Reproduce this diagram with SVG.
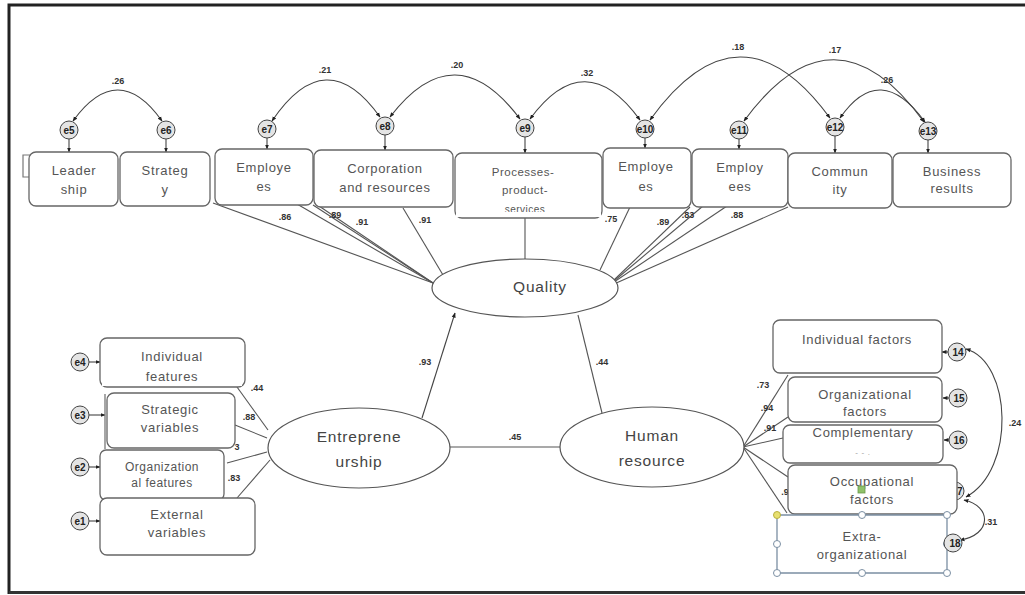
<svg xmlns="http://www.w3.org/2000/svg" width="1025" height="595" viewBox="0 0 1025 595">
<defs>
<marker id="ah" viewBox="0 0 10 10" refX="9" refY="5" markerWidth="5" markerHeight="5" markerUnits="userSpaceOnUse" orient="auto-start-reverse"><path d="M0,1 L10,5 L0,9 z" fill="#222"/></marker>
<style>
.bx{fill:#fff;stroke:#666;stroke-width:1.3}
.el{fill:#fff;stroke:#555;stroke-width:1.2}
.t{font-family:"Liberation Sans",Arial,sans-serif;font-size:13px;letter-spacing:0.7px;fill:#555;text-anchor:middle}
.ts{font-family:"Liberation Sans",Arial,sans-serif;font-size:11.5px;letter-spacing:0.5px;fill:#555;text-anchor:middle}
.tl{font-family:"Liberation Sans",Arial,sans-serif;font-size:15.5px;letter-spacing:0.8px;fill:#444;text-anchor:middle}
.c{font-family:"Liberation Sans",Arial,sans-serif;font-size:9px;font-weight:bold;fill:#333;text-anchor:middle}
.ec{fill:#e4e4e4;stroke:#444;stroke-width:1}
.et{font-family:"Liberation Sans",Arial,sans-serif;font-size:10px;font-weight:bold;fill:#222;text-anchor:middle}
.ln{fill:none;stroke:#555;stroke-width:1.1}
.ar{fill:none;stroke:#444;stroke-width:1.1;marker-end:url(#ah)}
.cv{fill:none;stroke:#444;stroke-width:1.1;marker-start:url(#ah);marker-end:url(#ah)}
.hd{fill:#fff;stroke:#7b8fa3;stroke-width:1}
</style>
</defs>
<rect width="1025" height="595" fill="#fff"/>
<path d="M9,594 V5 H1025" fill="none" stroke="#222" stroke-width="3"/>
<path d="M9,592.5 H1025" fill="none" stroke="#333" stroke-width="3"/>

<g id="connectors">
<path class="cv" d="M73,121 Q118,59 162,121"/>
<path class="cv" d="M272,121 Q326,41 380,117"/>
<path class="cv" d="M390,117 Q455,32 520,119"/>
<path class="cv" d="M530,119 Q585,44 640,120"/>
<path class="cv" d="M650,120 Q740,-5 830,118"/>
<path class="cv" d="M744,121 Q834,-2 924,122"/>
<path class="cv" d="M840,118 Q880,60 925,122"/>
<path class="ar" d="M69,139 V152"/>
<path class="ar" d="M166,139 V152"/>
<path class="ar" d="M267,138 V149"/>
<path class="ar" d="M385,135 V150"/>
<path class="ar" d="M525,137 V153"/>
<path class="ar" d="M645,138 V148"/>
<path class="ar" d="M739,139 V149"/>
<path class="ar" d="M835,136 V153"/>
<path class="ar" d="M928,140 V153"/>
<path class="ln" d="M213,203 L433,283"/>
<path class="ln" d="M297,204 L433,283"/>
<path class="ln" d="M313,205 L433,283"/>
<path class="ln" d="M319,206 L433,283"/>
<path class="ln" d="M403,208 L443,275"/>
<path class="ln" d="M525,217 V260"/>
<path class="ln" d="M630,207 L600,270"/>
<path class="ln" d="M690,207 L614,280"/>
<path class="ln" d="M703,206 L614,281"/>
<path class="ln" d="M727,206 L614,282"/>
<path class="ln" d="M788,207 L614,284"/>
<path class="ar" d="M422,418 L455,313"/>
<path class="ln" d="M578,315 L602,413"/>
<path class="ln" d="M450,447 L560,447"/>
<path class="ln" d="M237,387 L268,430"/>
<path class="ln" d="M235,425 L267,438"/>
<path class="ln" d="M227,463 L267,452"/>
<path class="ln" d="M237,498 L270,460"/>
<path class="ln" d="M743,447 L788,375"/>
<path class="ln" d="M743,447 L788,417"/>
<path class="ln" d="M743,447 L783,438"/>
<path class="ln" d="M743,447 L788,477"/>
<path class="ln" d="M743,447 L787,513"/>
<path class="ar" d="M89,362 H100"/>
<path class="ar" d="M89,415 H105"/>
<path class="ar" d="M89,467 H100"/>
<path class="ar" d="M89,521 H100"/>
<path class="ar" d="M948,352 H942"/>
<path class="ar" d="M949,398 H943"/>
<path class="ar" d="M949,440 H944"/>
<path class="cv" d="M966,349 C1012,362 1016,470 966,497"/>
<path class="cv" d="M964,500 C992,506 992,535 960,540"/>
</g>

<g id="coefs">
<text class="c" x="118" y="84">.26</text>
<text class="c" x="325" y="73">.21</text>
<text class="c" x="457" y="68">.20</text>
<text class="c" x="587" y="76">.32</text>
<text class="c" x="738" y="50">.18</text>
<text class="c" x="835" y="53">.17</text>
<text class="c" x="887" y="83">.26</text>
<text class="c" x="285" y="220">.86</text>
<text class="c" x="335" y="218">.89</text>
<text class="c" x="362" y="225">.91</text>
<text class="c" x="425" y="223">.91</text>
<text class="c" x="611" y="222">.75</text>
<text class="c" x="663" y="225">.89</text>
<text class="c" x="688" y="218">.83</text>
<text class="c" x="737" y="218">.88</text>
<text class="c" x="425" y="365">.93</text>
<text class="c" x="602" y="365">.44</text>
<text class="c" x="515" y="440">.45</text>
<text class="c" x="257" y="391">.44</text>
<text class="c" x="249" y="420">.88</text>
<text class="c" x="237" y="450">3</text>
<text class="c" x="234" y="481">.83</text>
<text class="c" x="763" y="388">.73</text>
<text class="c" x="767" y="411">.94</text>
<text class="c" x="770" y="431">.91</text>
<text class="c" x="785" y="495">.9</text>
<text class="c" x="1015" y="426">.24</text>
<text class="c" x="991" y="525">.31</text>
</g>

<g id="e5"><circle class="ec" cx="69" cy="130" r="9"/><text class="et" x="69" y="134">e5</text></g>
<g id="e6"><circle class="ec" cx="166" cy="130" r="9"/><text class="et" x="166" y="134">e6</text></g>
<g id="e7"><circle class="ec" cx="267" cy="129" r="9"/><text class="et" x="267" y="133">e7</text></g>
<g id="e8"><circle class="ec" cx="385" cy="126" r="9"/><text class="et" x="385" y="130">e8</text></g>
<g id="e9"><circle class="ec" cx="525" cy="128" r="9"/><text class="et" x="525" y="132">e9</text></g>
<g id="e10"><circle class="ec" cx="645" cy="129" r="9"/><text class="et" x="645" y="133">e10</text></g>
<g id="e11"><circle class="ec" cx="739" cy="130" r="9"/><text class="et" x="739" y="134">e11</text></g>
<g id="e12"><circle class="ec" cx="835" cy="127" r="9"/><text class="et" x="835" y="131">e12</text></g>
<g id="e13"><circle class="ec" cx="928" cy="131" r="9"/><text class="et" x="928" y="135">e13</text></g>

<path d="M30,155 H23 V177 H30" fill="none" stroke="#777" stroke-width="1.2"/>
<g id="leadership"><rect class="bx" x="29" y="152" width="89" height="54" rx="7"/><text class="t" x="74" y="175">Leader</text><text class="t" x="74" y="194">ship</text></g>
<g id="strategy"><rect class="bx" x="120" y="152" width="90" height="54" rx="7"/><text class="t" x="165" y="175">Strateg</text><text class="t" x="165" y="194">y</text></g>
<g id="employees1"><rect class="bx" x="215" y="149" width="98" height="56" rx="7"/><text class="t" x="264" y="172">Employe</text><text class="t" x="264" y="191">es</text></g>
<g id="corporation"><rect class="bx" x="314" y="150" width="139" height="57" rx="7"/><text class="t" x="385" y="173">Corporation</text><text class="t" x="385" y="192">and resources</text></g>
<g id="processes"><rect class="bx" x="455" y="153" width="147" height="65" rx="7"/><text class="ts" x="523" y="176">Processes-</text><text class="ts" x="525" y="194">product-</text><text class="ts" x="525" y="213" style="font-size:10px">services</text><rect x="456" y="212" width="145" height="5" fill="#fff"/></g>
<g id="employees2"><rect class="bx" x="603" y="148" width="88" height="60" rx="7"/><text class="t" x="646" y="171">Employe</text><text class="t" x="646" y="191">es</text></g>
<g id="employees3"><rect class="bx" x="692" y="149" width="96" height="58" rx="7"/><text class="t" x="740" y="172">Employ</text><text class="t" x="740" y="191">ees</text></g>
<g id="community"><rect class="bx" x="788" y="153" width="104" height="55" rx="7"/><text class="t" x="840" y="176">Commun</text><text class="t" x="840" y="194">ity</text></g>
<g id="business"><rect class="bx" x="893" y="153" width="118" height="54" rx="7"/><text class="t" x="952" y="176">Business</text><text class="t" x="952" y="193">results</text></g>

<g id="quality"><ellipse class="el" cx="525" cy="288" rx="93" ry="29"/><text class="tl" x="540" y="292">Quality</text></g>
<g id="entrepreneurship"><ellipse class="el" cx="359" cy="448" rx="91" ry="40"/><text class="tl" x="359" y="442">Entreprene</text><text class="tl" x="359" y="467">urship</text></g>
<g id="human"><ellipse class="el" cx="652" cy="447" rx="92" ry="40"/><text class="tl" x="652" y="441">Human</text><text class="tl" x="652" y="466">resource</text></g>

<g id="e4"><circle class="ec" cx="80" cy="362" r="9"/><text class="et" x="80" y="366">e4</text></g>
<g id="e3"><circle class="ec" cx="80" cy="415" r="9"/><text class="et" x="80" y="419">e3</text></g>
<g id="e2"><circle class="ec" cx="80" cy="467" r="9"/><text class="et" x="80" y="471">e2</text></g>
<g id="e1"><circle class="ec" cx="80" cy="521" r="9"/><text class="et" x="80" y="525">e1</text></g>

<g id="individual-features"><rect class="bx" x="100" y="338" width="145" height="49" rx="7"/><text class="t" x="172" y="361">Individual</text><text class="t" x="172" y="381">features</text><rect x="102" y="382" width="140" height="4" fill="#fff"/></g>
<g id="strategic-variables"><path d="M105,394 V449" stroke="#777" stroke-width="1.3"/><rect class="bx" x="107" y="393" width="128" height="55" rx="7"/><text class="t" x="170" y="414">Strategic</text><text class="t" x="170" y="432">variables</text></g>
<g id="organizational-features"><rect class="bx" x="100" y="450" width="124" height="50" rx="6"/><text class="ts" x="162" y="471" style="font-size:12px">Organization</text><text class="ts" x="162" y="487" style="font-size:12px">al features</text></g>
<g id="external-variables"><rect class="bx" x="100" y="498" width="155" height="57" rx="7"/><text class="t" x="177" y="519">External</text><text class="t" x="177" y="537">variables</text></g>

<g id="e17"><circle class="ec" cx="955" cy="491" r="9"/><text class="et" x="957" y="495">17</text></g>

<g id="individual-factors"><rect class="bx" x="773" y="320" width="169" height="53" rx="7"/><text class="t" x="857" y="344">Individual factors</text></g>
<g id="organizational-factors"><rect class="bx" x="788" y="377" width="154" height="45" rx="7"/><text class="t" x="865" y="399">Organizational</text><text class="t" x="865" y="416">factors</text></g>
<g id="complementary"><rect class="bx" x="783" y="425" width="160" height="38" rx="7"/><text class="t" x="863" y="437">Complementary</text><text class="t" x="863" y="455" style="font-size:8px;fill:#999">-      -      .</text></g>
<g id="occupational"><rect class="bx" x="788" y="465" width="169" height="49" rx="7"/><text class="t" x="872" y="486">Occupational</text><text class="t" x="872" y="504">factors</text></g>
<g id="extra-organizational"><rect class="bx" x="777" y="515" width="170" height="58" rx="4" style="stroke:#7b8fa3"/><text class="t" x="862" y="541">Extra-</text><text class="t" x="862" y="559">organizational</text>
<circle class="hd" cx="777" cy="515" r="3.5" style="fill:#e8e070;stroke:#b8b040"/><circle class="hd" cx="862" cy="515" r="3.5"/><circle class="hd" cx="947" cy="515" r="3.5"/><circle class="hd" cx="777" cy="544" r="3.5"/><circle class="hd" cx="947" cy="544" r="3.5"/><circle class="hd" cx="777" cy="573" r="3.5"/><circle class="hd" cx="862" cy="573" r="3.5"/><circle class="hd" cx="947" cy="573" r="3.5"/><rect x="858" y="486" width="7" height="7" fill="#8fc26a" stroke="#6a9a4a" stroke-width="0.8"/></g>

<g id="e14"><circle class="ec" cx="957" cy="352" r="9"/><text class="et" x="958" y="356">14</text></g>
<g id="e15"><circle class="ec" cx="958" cy="398" r="9"/><text class="et" x="959" y="402">15</text></g>
<g id="e16"><circle class="ec" cx="958" cy="440" r="9"/><text class="et" x="959" y="444">16</text></g>
<g id="e18"><circle class="ec" cx="953" cy="543" r="9"/><text class="et" x="955" y="547">18</text></g>
</svg>
